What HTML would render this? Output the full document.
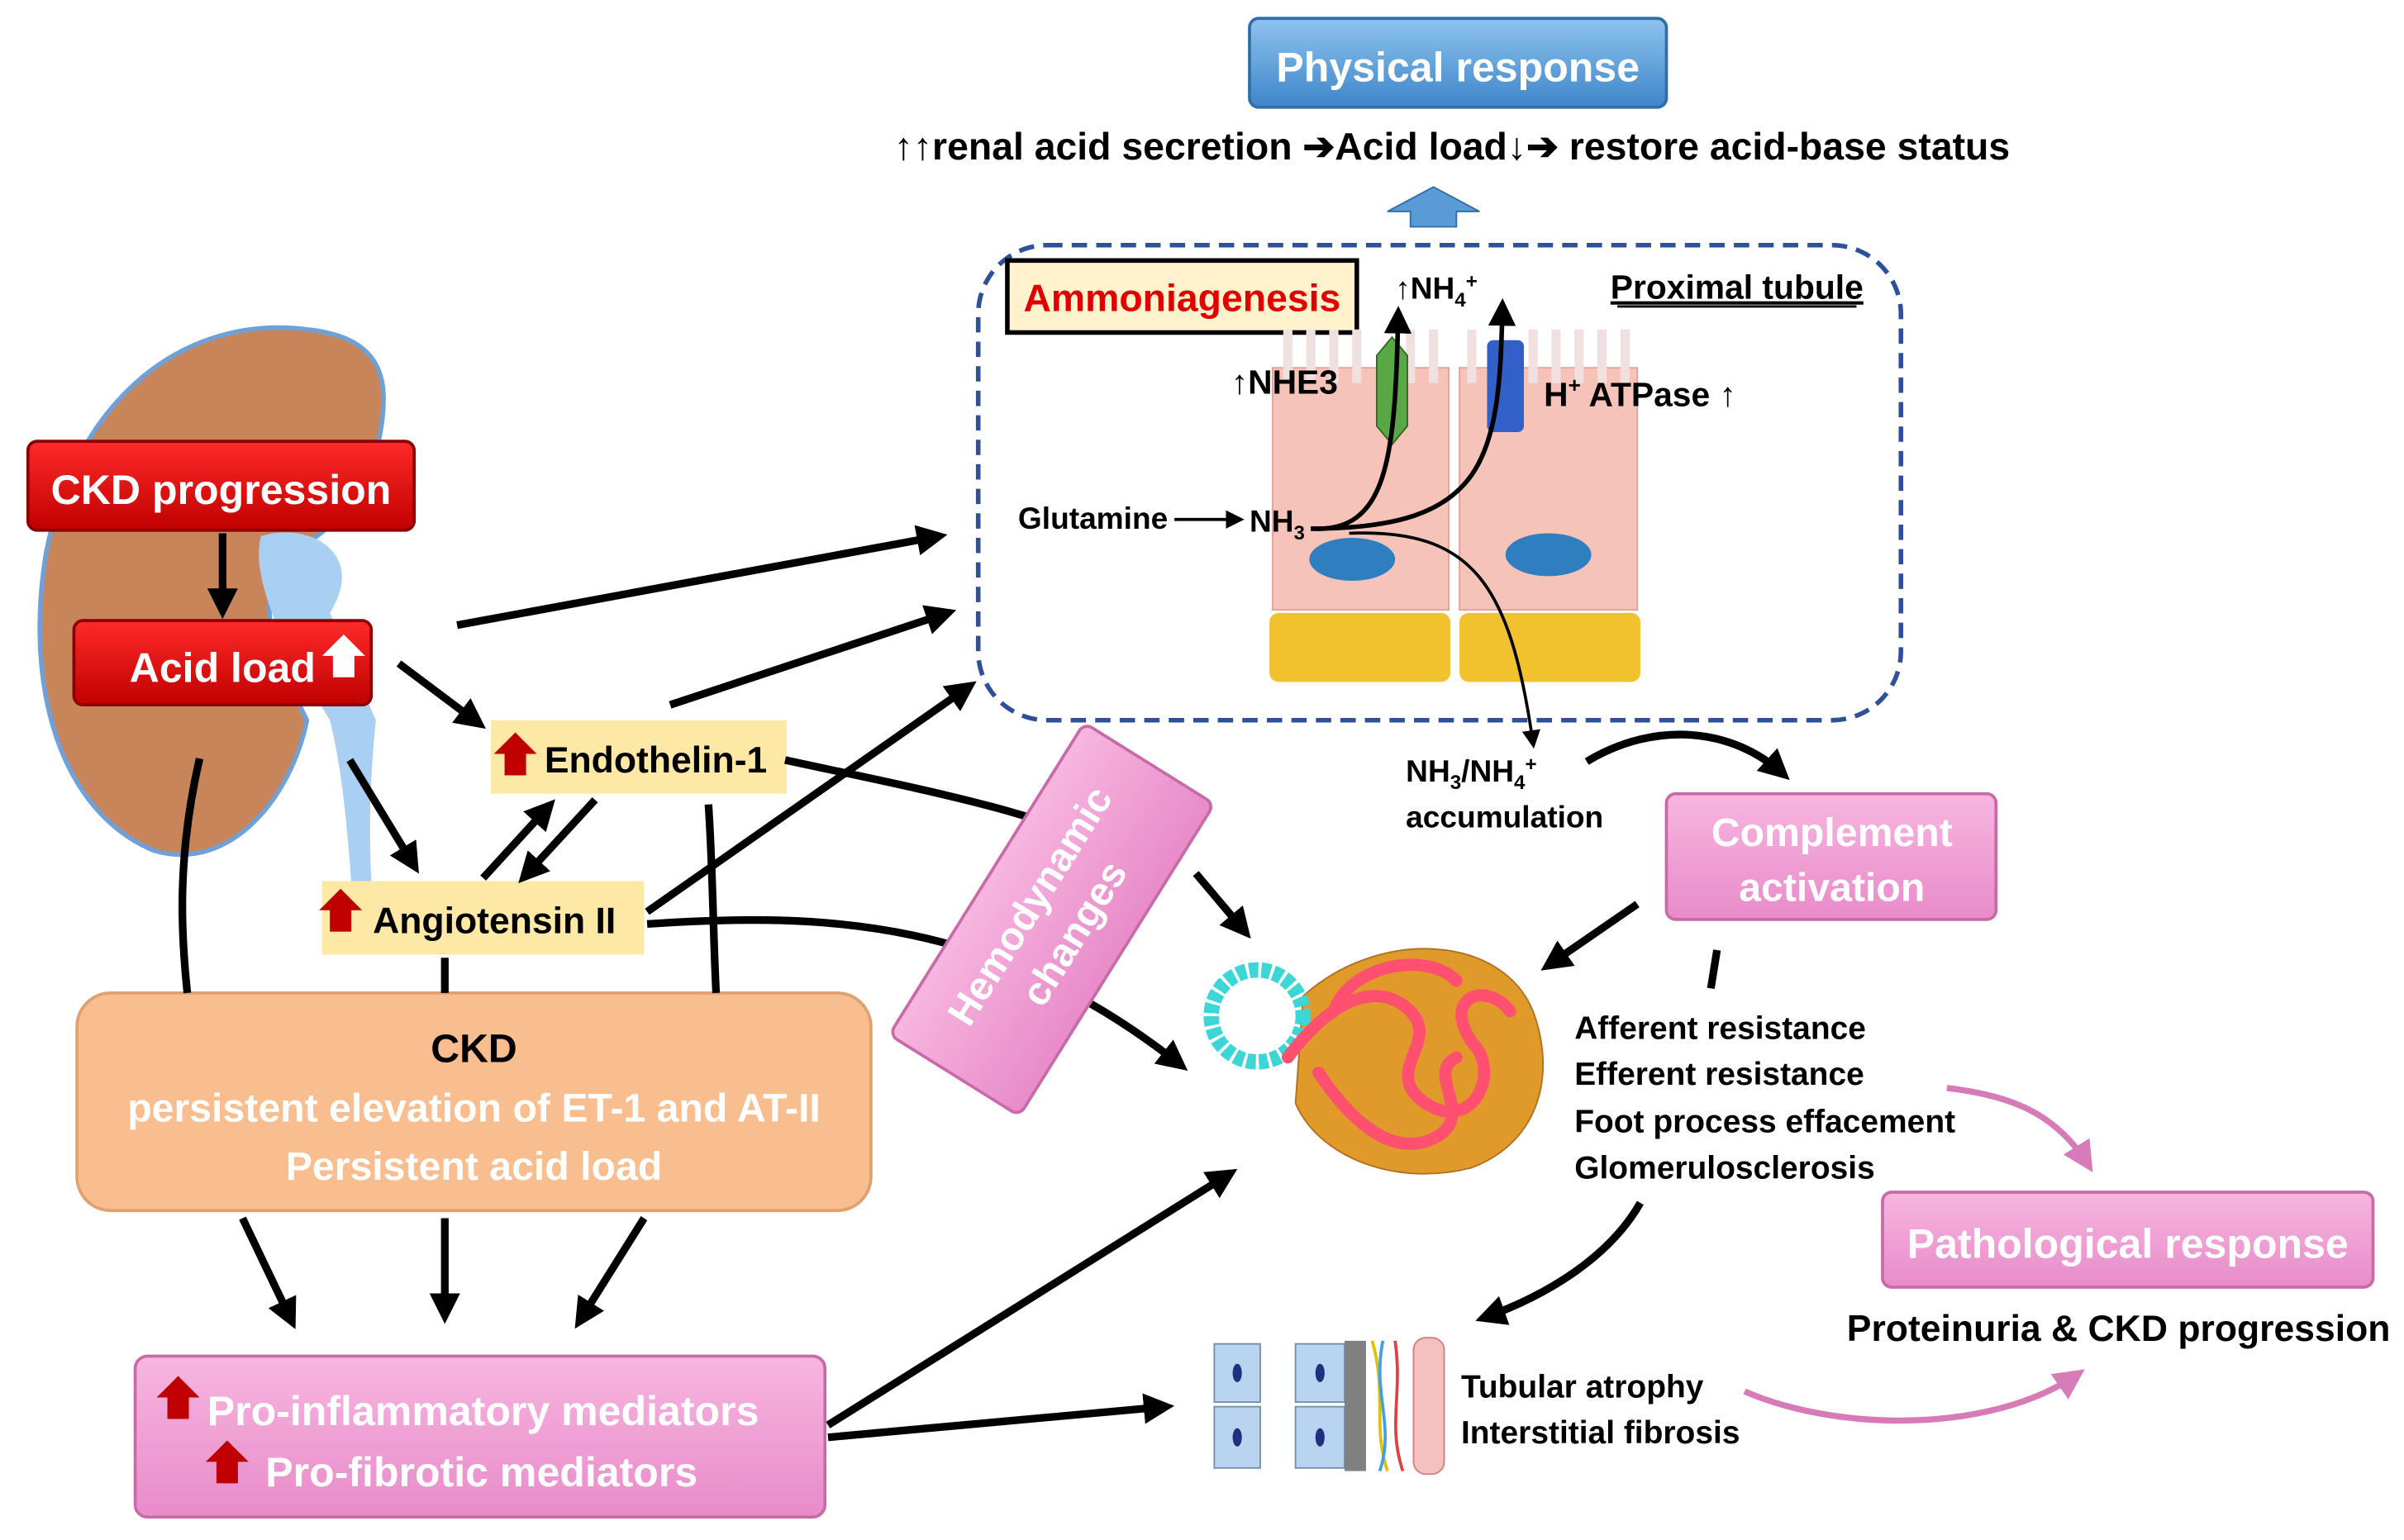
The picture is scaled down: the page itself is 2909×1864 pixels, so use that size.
<!DOCTYPE html>
<html><head><meta charset="utf-8"><style>
html,body{margin:0;padding:0;background:#fff;}
svg{display:block;}
text{font-family:"Liberation Sans",sans-serif;font-weight:bold;}
</style></head><body>
<svg width="2909" height="1864" viewBox="0 0 1568 1005" xmlns="http://www.w3.org/2000/svg">
<defs>
<marker id="ah" viewBox="0 0 10 10" refX="7" refY="5" markerWidth="4" markerHeight="4" orient="auto"><path d="M0,0 L10,5 L0,10 z" fill="#000"/></marker>
<marker id="ahs" viewBox="0 0 10 10" refX="7" refY="5" markerWidth="6" markerHeight="6" orient="auto"><path d="M0,0 L10,5 L0,10 z" fill="#000"/></marker>
<marker id="ahp" viewBox="0 0 10 10" refX="7" refY="5" markerWidth="5" markerHeight="5" orient="auto"><path d="M0,0 L10,5 L0,10 z" fill="#d77ab8"/></marker>
<linearGradient id="pk" x1="0" y1="0" x2="0" y2="1"><stop offset="0" stop-color="#f7b6e0"/><stop offset="1" stop-color="#e88bc9"/></linearGradient>
<linearGradient id="bl" x1="0" y1="0" x2="0" y2="1"><stop offset="0" stop-color="#8ec3ee"/><stop offset="1" stop-color="#3e86c9"/></linearGradient>
<linearGradient id="rd" x1="0" y1="0" x2="0" y2="1"><stop offset="0" stop-color="#ff2a2a"/><stop offset="1" stop-color="#c00000"/></linearGradient>
</defs>

<!-- kidney -->
<path d="M200,215 C120,205 50,260 30,360 C15,450 40,530 100,555 C150,570 190,520 200,470 C175,420 165,390 190,360 C230,340 250,300 250,260 C250,230 230,218 200,215 z" fill="#c8855a" stroke="#6fa0d8" stroke-width="3"/>
<path d="M170,350 C200,340 240,360 215,400 L245,470 C240,520 240,560 245,620 L232,620 C228,560 225,510 215,470 L185,420 C175,395 165,370 170,350 z" fill="#a9cff2"/>

<!-- CKD progression -->
<rect x="18" y="288" width="252" height="58" rx="6" fill="url(#rd)" stroke="#8b0000" stroke-width="2"/>
<text x="144" y="329" font-size="27" fill="#fff" text-anchor="middle">CKD progression</text>
<line x1="145" y1="348" x2="145" y2="398" stroke="#000" stroke-width="5" marker-end="url(#ah)"/>
<rect x="48" y="405" width="194" height="55" rx="6" fill="url(#rd)" stroke="#8b0000" stroke-width="2"/>
<text x="145" y="445" font-size="27" fill="#fff" text-anchor="middle">Acid load</text>
<path d="M224,414 L238,428 L231,428 L231,442 L217,442 L217,428 L210,428 z" fill="#fff"/>

<!-- Endothelin / Angiotensin -->
<rect x="320" y="470" width="193" height="48" fill="#fde8a6"/>
<path d="M336,478 L350,492 L343,492 L343,506 L329,506 L329,492 L322,492 z" fill="#c00000"/>
<text x="355" y="504" font-size="24" fill="#000">Endothelin-1</text>
<rect x="210" y="575" width="210" height="48" fill="#fde8a6"/>
<path d="M222,580 L236,594 L229,594 L229,608 L215,608 L215,594 L208,594 z" fill="#c00000"/>
<text x="243" y="609" font-size="24" fill="#000">Angiotensin II</text>

<!-- CKD box -->
<rect x="50" y="648" width="518" height="142" rx="22" fill="#f9be8f" stroke="#e0a070" stroke-width="2"/>
<text x="309" y="693" font-size="26" fill="#000" text-anchor="middle">CKD</text>
<text x="309" y="732" font-size="26" fill="#fff" text-anchor="middle" font-weight="normal">persistent elevation of  ET-1 and AT-II</text>
<text x="309" y="770" font-size="26" fill="#fff" text-anchor="middle" font-weight="normal">Persistent acid load</text>

<!-- Pro-inflammatory -->
<rect x="88" y="885" width="450" height="105" rx="8" fill="url(#pk)" stroke="#c96aa8" stroke-width="2"/>
<path d="M116,898 L130,912 L123,912 L123,926 L109,926 L109,912 L102,912 z" fill="#c00000"/>
<text x="135" y="930" font-size="27" fill="#fff" font-weight="normal">Pro-inflammatory mediators</text>
<path d="M148,940 L162,954 L155,954 L155,968 L141,968 L141,954 L134,954 z" fill="#c00000"/>
<text x="173" y="970" font-size="27" fill="#fff" font-weight="normal">Pro-fibrotic mediators</text>

<!-- arrows left -->
<g stroke="#000" stroke-width="5" fill="none">
<line x1="260" y1="433" x2="312" y2="472" marker-end="url(#ah)"/>
<line x1="228" y1="496" x2="270" y2="565" marker-end="url(#ah)"/>
<line x1="315" y1="573" x2="358" y2="526" marker-end="url(#ah)"/>
<line x1="388" y1="522" x2="342" y2="572" marker-end="url(#ah)"/>
<line x1="298" y1="408" x2="612" y2="350" marker-end="url(#ah)"/>
<line x1="437" y1="460" x2="618" y2="400" marker-end="url(#ah)"/>
<line x1="422" y1="595" x2="632" y2="448" marker-end="url(#ah)"/>
<path d="M512,496 C600,515 680,530 725,555"/>
<path d="M422,603 C540,595 650,600 770,695" marker-end="url(#ah)"/>
<path d="M130,495 C115,560 118,610 122,648"/>
<line x1="290" y1="625" x2="290" y2="648"/>
<path d="M462,525 C465,570 465,610 467,648"/>
<line x1="158" y1="795" x2="190" y2="862" marker-end="url(#ah)"/>
<line x1="290" y1="795" x2="290" y2="858" marker-end="url(#ah)"/>
<line x1="420" y1="795" x2="378" y2="862" marker-end="url(#ah)"/>
<line x1="540" y1="930" x2="802" y2="766" marker-end="url(#ah)"/>
<line x1="540" y1="938" x2="760" y2="918" marker-end="url(#ah)"/>
<line x1="780" y1="570" x2="812" y2="608" marker-end="url(#ah)"/>
<line x1="1068" y1="590" x2="1010" y2="630" marker-end="url(#ah)"/>
<line x1="1120" y1="620" x2="1116" y2="645"/>
<path d="M1070,785 C1050,820 1010,845 968,860" marker-end="url(#ah)"/>
<path d="M1035,497 C1080,470 1130,475 1163,505" marker-end="url(#ah)"/>
</g>

<!-- Hemodynamic rotated -->
<g transform="translate(686,600) rotate(-58)">
<rect x="-120" y="-50" width="240" height="100" rx="6" fill="url(#pk)" stroke="#c96aa8" stroke-width="2"/>
<text x="0" y="-8" font-size="26" fill="#fff" text-anchor="middle" font-weight="normal">Hemodynamic</text>
<text x="0" y="26" font-size="26" fill="#fff" text-anchor="middle" font-weight="normal">changes</text>
</g>

<!-- Physical response -->
<rect x="815" y="12" width="272" height="58" rx="6" fill="url(#bl)" stroke="#2f6ea8" stroke-width="2"/>
<text x="951" y="53" font-size="27" fill="#fff" text-anchor="middle" font-weight="normal">Physical response</text>
<text x="583" y="104" font-size="25" fill="#000">↑↑renal acid secretion ➔Acid load↓➔ restore acid-base status</text>
<path d="M935,122 L965,138 L950,138 L950,148 L920,148 L920,138 L905,138 z" fill="#5b9bd5" stroke="#2f6ea8"/>

<!-- dashed box -->
<rect x="638" y="160" width="602" height="310" rx="45" fill="none" stroke="#2e4f9a" stroke-width="3" stroke-dasharray="10,6"/>
<rect x="657" y="170" width="228" height="47" fill="#fff2cc" stroke="#000" stroke-width="3"/>
<text x="771" y="203" font-size="25" fill="#e00000" text-anchor="middle">Ammoniagenesis</text>
<text x="1133" y="195" font-size="22" fill="#000" text-anchor="middle" text-decoration="underline">Proximal tubule</text>
<line x1="1055" y1="200" x2="1211" y2="200" stroke="#000" stroke-width="1.5"/>

<!-- cells -->
<g fill="#f6c3b8" stroke="#e8a090">
<path d="M830,240 L945,240 L945,398 L830,398 z"/>
<path d="M952,240 L1068,240 L1068,398 L952,398 z"/>
</g>
<g stroke="#f0e0e0" stroke-width="6">
<line x1="840" y1="215" x2="840" y2="250"/><line x1="855" y1="215" x2="855" y2="250"/><line x1="870" y1="215" x2="870" y2="250"/><line x1="885" y1="215" x2="885" y2="250"/><line x1="920" y1="215" x2="920" y2="250"/><line x1="935" y1="215" x2="935" y2="250"/>
<line x1="960" y1="215" x2="960" y2="250"/><line x1="1000" y1="215" x2="1000" y2="250"/><line x1="1015" y1="215" x2="1015" y2="250"/><line x1="1030" y1="215" x2="1030" y2="250"/><line x1="1045" y1="215" x2="1045" y2="250"/><line x1="1060" y1="215" x2="1060" y2="250"/>
</g>
<ellipse cx="882" cy="365" rx="28" ry="14" fill="#2f7fc0"/>
<ellipse cx="1010" cy="362" rx="28" ry="14" fill="#2f7fc0"/>
<rect x="828" y="400" width="118" height="45" rx="6" fill="#f2c12e"/>
<rect x="952" y="400" width="118" height="45" rx="6" fill="#f2c12e"/>
<path d="M898,232 L908,220 L918,232 L918,278 L908,290 L898,278 z" fill="#5aa845" stroke="#2d6b20"/>
<rect x="970" y="222" width="24" height="60" rx="4" fill="#3060c8"/>
<text x="803" y="257" font-size="22" fill="#000">↑NHE3</text>
<text x="1007" y="265" font-size="22" fill="#000">H<tspan font-size="14" dy="-9">+</tspan><tspan dy="9"> ATPase ↑</tspan></text>
<text x="910" y="195" font-size="20" fill="#000" font-weight="normal">↑NH<tspan font-size="13" dy="5">4</tspan><tspan font-size="13" dy="-12">+</tspan></text>
<text x="664" y="345" font-size="20" fill="#000" font-weight="normal">Glutamine</text>
<line x1="766" y1="339" x2="808" y2="339" stroke="#000" stroke-width="2" marker-end="url(#ahs)"/>
<text x="815" y="347" font-size="20" fill="#000" font-weight="normal">NH<tspan font-size="13" dy="5">3</tspan></text>
<g stroke="#000" stroke-width="3" fill="none">
<path d="M855,345 C905,348 910,300 912,205" marker-end="url(#ahs)"/>
<path d="M855,345 C970,345 978,300 980,200" marker-end="url(#ahs)"/>
<path d="M880,348 C960,345 985,380 1000,485" stroke-width="2" marker-end="url(#ahs)"/>
</g>
<text x="917" y="510" font-size="20" fill="#000" font-weight="normal">NH<tspan font-size="13" dy="5">3</tspan><tspan dy="-5">/NH</tspan><tspan font-size="13" dy="5">4</tspan><tspan font-size="13" dy="-12">+</tspan></text>
<text x="917" y="540" font-size="20" fill="#000" font-weight="normal">accumulation</text>

<!-- Complement -->
<rect x="1087" y="518" width="215" height="82" rx="6" fill="url(#pk)" stroke="#c96aa8" stroke-width="2"/>
<text x="1195" y="552" font-size="26" fill="#fff" text-anchor="middle" font-weight="normal">Complement</text>
<text x="1195" y="588" font-size="26" fill="#fff" text-anchor="middle" font-weight="normal">activation</text>

<!-- glomerulus -->
<path d="M850,650 C900,605 980,610 1000,660 C1015,700 1005,745 960,762 C910,775 860,755 845,720 z" fill="#e09a2a" stroke="#b07020"/>
<circle cx="820" cy="663" r="30" fill="none" stroke="#3dd6d6" stroke-width="10" stroke-dasharray="6,2"/>
<g stroke="#ff5070" stroke-width="8" fill="none" stroke-linecap="round">
<path d="M840,690 C870,650 900,640 920,660 C940,680 900,700 930,720 C960,740 980,700 960,680 C940,650 970,640 985,660"/>
<path d="M860,700 C880,730 910,760 940,740 C960,725 930,700 950,690"/>
<path d="M870,660 C880,630 930,620 950,640"/>
</g>
<g font-size="21" fill="#000" font-weight="normal">
<text x="1027" y="678">Afferent resistance</text>
<text x="1027" y="708">Efferent resistance</text>
<text x="1027" y="739">Foot process effacement</text>
<text x="1027" y="769">Glomerulosclerosis</text>
</g>
<path d="M1270,710 C1310,715 1340,725 1362,760" stroke="#d77ab8" stroke-width="4" fill="none" marker-end="url(#ahp)"/>

<!-- Pathological -->
<rect x="1228" y="778" width="320" height="62" rx="6" fill="url(#pk)" stroke="#c96aa8" stroke-width="2"/>
<text x="1388" y="821" font-size="27" fill="#fff" text-anchor="middle" font-weight="normal">Pathological response</text>
<text x="1382" y="875" font-size="24" fill="#000" text-anchor="middle">Proteinuria &amp; CKD progression</text>

<!-- tubule -->
<g fill="#b8d4f0" stroke="#7090b0">
<rect x="792" y="877" width="30" height="38"/><rect x="792" y="918" width="30" height="40"/>
<rect x="845" y="877" width="32" height="38"/><rect x="845" y="918" width="32" height="40"/>
</g>
<g fill="#203080"><ellipse cx="807" cy="896" rx="3" ry="6"/><ellipse cx="807" cy="938" rx="3" ry="6"/><ellipse cx="861" cy="896" rx="3" ry="6"/><ellipse cx="861" cy="938" rx="3" ry="6"/></g>
<rect x="877" y="875" width="14" height="85" fill="#808080"/>
<g stroke-width="2" fill="none"><path d="M895,875 C905,910 895,930 905,960" stroke="#e0c000"/><path d="M902,875 C895,910 910,930 900,960" stroke="#40a0e0"/><path d="M910,875 C915,910 905,930 915,960" stroke="#e04040"/></g>
<rect x="922" y="873" width="20" height="89" rx="8" fill="#f4c0c0" stroke="#d08080"/>
<text x="953" y="912" font-size="21" fill="#000" font-weight="normal">Tubular atrophy</text>
<text x="953" y="942" font-size="21" fill="#000" font-weight="normal">Interstitial fibrosis</text>
<path d="M1138,908 C1200,935 1300,935 1355,897" stroke="#d77ab8" stroke-width="4" fill="none" marker-end="url(#ahp)"/>
</svg>
</body></html>
